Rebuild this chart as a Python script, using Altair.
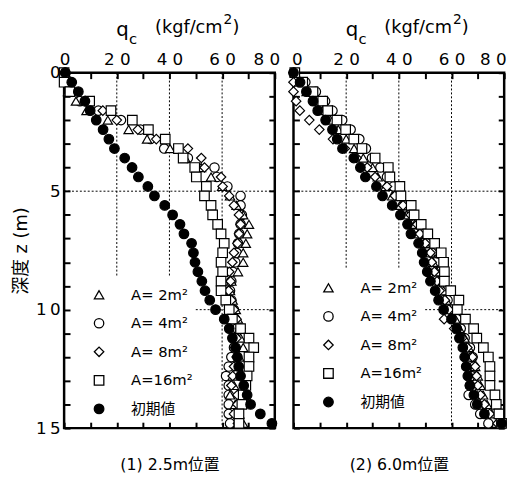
import altair as alt
import pandas as pd

FONT = "DejaVu Sans, Noto Sans CJK JP, sans-serif"

# depth (m)
Z = [0.0, 0.4, 0.8, 1.2, 1.6, 2.0, 2.4, 2.8, 3.2, 3.6, 4.0, 4.4, 4.8, 5.2, 5.6,
     6.0, 6.4, 6.8, 7.2, 7.6, 8.0, 8.4, 8.8, 9.2, 9.6, 10.0, 10.4, 10.8, 11.2,
     11.6, 12.0, 12.4, 12.8, 13.2, 13.6, 14.0, 14.4, 14.8]

SERIES = ["A= 2m²", "A= 4m²", "A= 8m²", "A=16m²", "初期値"]
SHAPES = ["triangle-up", "circle", "diamond", "square", "circle"]
FILLS = ["white", "white", "white", "white", "black"]
STROKES = ["black", "black", "black", "black", "black"]
SIZES = [90, 95, 150, 105, 160]
DRAW_ORDER = ["A= 4m²", "A= 2m²", "A= 8m²", "A=16m²", "初期値"]

# (1) 2.5m position, qc (kgf/cm2)
L_A2 = [0.5, 0.5, 1.5, 4.5, 8.5, 16.6, 24.5, 31.5, 40.2, 46.0, 52.0, 55.8, 60.0, 63.0, 65.5,
        68.0, 70.2, 69.5, 69.0, 68.0, 68.0, 66.0, 63.5, 63.0, 64.0, 65.2, 66.0, 66.5, 67.0,
        68.0, 66.5, 66.0, 64.0, 64.5, 63.0, 65.0, 66.5, 68.0]
L_A4 = [0.5, 1.0, 2.5, 6.0, 13.0, 21.6, 29.0, 32.8, 38.0, 47.0, 57.1, 58.0, 62.0, 67.0, 67.0,
        67.5, 67.0, 66.5, 66.0, 65.5, 65.0, 64.0, 63.5, 63.0, 63.5, 64.5, 65.0, 65.5, 65.0,
        64.5, 63.5, 62.5, 61.5, 62.5, 62.5, 62.5, 62.5, 63.0]
L_A8 = [0.3, 1.0, 3.0, 8.0, 14.7, 20.0, 28.0, 35.0, 47.0, 52.1, 53.3, 59.6, 60.2, 62.7, 64.5,
        66.4, 67.0, 66.4, 65.8, 64.5, 63.9, 62.7, 63.2, 62.5, 63.5, 64.5, 65.5, 67.0, 65.5,
        65.0, 65.5, 64.5, 64.0, 63.5, 65.8, 65.8, 64.5, 66.0]
L_A16 = [0.0, 0.0, 2.2, 9.7, 17.8, 25.9, 32.0, 38.4, 43.4, 45.2, 49.6, 50.2, 54.0, 53.3, 55.8,
         56.4, 58.3, 59.6, 60.8, 60.2, 59.6, 60.2, 59.6, 59.6, 61.4, 62.7, 63.9, 67.0, 70.2,
         72.0, 70.2, 70.2, 69.5, 69.0, 68.0, 67.5, 66.4, 66.4]
L_INIT = [0.4, 2.9, 5.4, 7.9, 9.9, 12.2, 14.8, 17.0, 19.1, 23.0, 25.8, 28.2, 31.8, 34.3, 38.2,
          41.2, 44.0, 45.5, 48.4, 49.1, 49.7, 50.8, 52.3, 53.5, 55.3, 57.5, 60.8, 62.7, 63.9,
          65.1, 65.8, 66.3, 67.0, 68.2, 69.5, 70.8, 74.5, 78.9]

# (2) 6.0m position
R_A2 = [0.5, 2.0, 5.0, 8.5, 11.0, 14.0, 17.0, 20.0, 23.0, 26.5, 30.0, 32.0, 35.0, 37.5, 40.5,
        43.0, 46.0, 47.5, 50.0, 52.0, 53.0, 54.5, 55.5, 57.0, 58.0, 59.5, 61.5, 63.0, 65.0,
        66.5, 67.5, 69.0, 70.0, 71.0, 72.0, 73.5, 75.3, 77.0]
R_A4 = [0.5, 4.5, 8.5, 12.0, 14.8, 18.5, 21.7, 25.0, 27.5, 29.8, 33.0, 35.5, 38.0, 39.5, 42.0,
        44.0, 46.0, 48.5, 50.5, 52.5, 54.0, 55.0, 56.0, 57.0, 58.5, 60.0, 62.0, 63.5, 65.0,
        67.0, 68.0, 68.5, 67.5, 67.0, 66.5, 69.0, 70.9, 74.0]
R_A8 = [0.0, 0.0, 0.0, 1.0, 2.4, 6.0, 9.8, 15.0, 19.5, 24.0, 28.0, 31.0, 35.5, 38.5, 41.6,
        44.5, 47.0, 48.0, 50.0, 52.0, 52.5, 53.5, 54.5, 55.5, 57.5, 59.0, 57.2, 61.0, 64.0,
        66.0, 68.0, 69.0, 69.5, 70.0, 71.0, 72.5, 74.5, 77.5]
R_A16 = [0.5, 3.5, 7.4, 11.1, 13.0, 16.5, 19.8, 22.9, 26.0, 31.0, 36.0, 36.6, 40.4, 40.8, 44.7,
         45.8, 48.5, 51.0, 53.6, 56.1, 57.0, 57.3, 57.3, 59.7, 62.8, 62.2, 65.3, 68.4, 69.6,
         72.1, 74.0, 74.6, 74.6, 74.6, 76.5, 77.0, 78.0, 79.0]
R_INIT = [0.0, 2.5, 4.9, 7.4, 9.2, 12.2, 14.8, 16.6, 18.6, 22.9, 25.4, 27.3, 31.5, 33.8, 37.5,
          40.6, 43.3, 44.6, 47.5, 48.9, 49.6, 50.8, 52.0, 53.8, 55.1, 57.0, 60.0, 62.0, 63.0,
          64.3, 65.0, 65.6, 66.2, 67.0, 68.5, 69.8, 72.5, 79.0]

X_TICKS = [0, 10, 20, 30, 40, 50, 60, 70, 80]
Y_TICKS = list(range(0, 16))

# dotted reference lines
VGRID_X = [20, 40, 60]
L_VGRID_END = [8.6, 8.6, 15]
R_VGRID_END = [8.3, 8.3, 15]
HGRID_Y = [5, 10]
HGRID_START = [0, 50]


def build_points(series_values):
    rows = []
    for name in DRAW_ORDER:
        vals = series_values[name]
        for z, q in zip(Z, vals):
            rows.append({"series": name, "z": z, "q": q})
    return pd.DataFrame(rows)


left_df = build_points({"A= 2m²": L_A2, "A= 4m²": L_A4, "A= 8m²": L_A8,
                        "A=16m²": L_A16, "初期値": L_INIT})
right_df = build_points({"A= 2m²": R_A2, "A= 4m²": R_A4, "A= 8m²": R_A8,
                         "A=16m²": R_A16, "初期値": R_INIT})

XS = alt.Scale(domain=[0, 80], nice=False, zero=False)
YS = alt.Scale(domain=[0, 15], reverse=True, nice=False, zero=False)


def text_layer(txt, x, y, size, align="left"):
    return alt.Chart(pd.DataFrame({"t": [txt]})).mark_text(
        font=FONT, fontSize=size, align=align, baseline="alphabetic", color="black"
    ).encode(x=alt.value(x), y=alt.value(y), text="t:N")


def make_panel(df, vgrid_end, caption, show_ylabels, legend_y, flush_offset):
    legend = alt.Legend(orient="none", legendX=28, legendY=legend_y, title=None,
                        labelFontSize=15, labelFont=FONT, labelColor="black",
                        symbolStrokeWidth=1.3,
                        rowPadding=13, labelOffset=25, padding=0)
    top_axis = alt.Axis(
        orient="top", values=X_TICKS,
        labelExpr="datum.value % 20 == 0 ? join(split(datum.label, ''), ' ') : ''",
        offset=-6, tickSize=6, tickWidth=2, tickColor="black", domain=False,
        grid=False, labelFontSize=17, labelFont=FONT, labelColor="black",
        labelPadding=4, title=None, labelOverlap=False, labelBound=False,
        labelFlush=True, labelFlushOffset=flush_offset)
    if show_ylabels:
        left_axis = alt.Axis(
            orient="left", values=Y_TICKS,
            labelExpr="datum.value % 5 == 0 ? join(split(datum.label, ''), '\u2009') : ''",
            offset=-6, tickSize=6, tickWidth=2, tickColor="black", domain=False,
            grid=False, labelFontSize=17, labelFont=FONT, labelColor="black",
            labelPadding=4, labelOverlap=False, labelBound=False, labelFlush=False,
            title="深度 z (m)", titleFont=FONT, titleFontSize=18,
            titleFontWeight="normal", titleColor="black", titlePadding=5)
    else:
        left_axis = alt.Axis(
            orient="left", values=Y_TICKS, labels=False, offset=-6, tickSize=6,
            tickWidth=2, tickColor="black", domain=False, grid=False, title=None)

    points = alt.Chart(df).mark_point(
        filled=True, strokeWidth=1.2, opacity=1
    ).encode(
        x=alt.X("q:Q", scale=XS, axis=top_axis),
        y=alt.Y("z:Q", scale=YS, axis=left_axis),
        shape=alt.Shape("series:N", scale=alt.Scale(domain=SERIES, range=SHAPES), legend=legend),
        fill=alt.Fill("series:N", scale=alt.Scale(domain=SERIES, range=FILLS), legend=legend),
        stroke=alt.Stroke("series:N", scale=alt.Scale(domain=SERIES, range=STROKES), legend=legend),
        size=alt.Size("series:N", scale=alt.Scale(domain=SERIES, range=SIZES), legend=legend),
    )

    vdf = pd.DataFrame({"gx": VGRID_X, "gy0": [0, 0, 0], "gy1": vgrid_end})
    vrules = alt.Chart(vdf).mark_rule(
        color="black", strokeWidth=1, strokeDash=[2, 2]
    ).encode(
        x=alt.X("gx:Q", scale=XS, axis=alt.Axis(
            orient="bottom", values=X_TICKS, labels=False, offset=-6, tickSize=6,
            tickWidth=2, tickColor="black", domain=False, grid=False,
            title=caption, titleFont=FONT, titleFontSize=16,
            titleFontWeight="normal", titleColor="black", titlePadding=28)),
        y=alt.Y("gy0:Q", scale=YS, axis=None),
        y2="gy1:Q",
    )

    hdf = pd.DataFrame({"hy": HGRID_Y, "hx0": HGRID_START, "hx1": [80, 80]})
    hrules = alt.Chart(hdf).mark_rule(
        color="black", strokeWidth=1, strokeDash=[2, 2]
    ).encode(
        y=alt.Y("hy:Q", scale=YS, axis=alt.Axis(
            orient="right", values=Y_TICKS, labels=False, offset=-6, tickSize=6,
            tickWidth=2, tickColor="black", domain=False, grid=False, title=None)),
        x=alt.X("hx0:Q", scale=XS, axis=None),
        x2="hx1:Q",
    )

    titles = (text_layer("q", 53, -37, 20) + text_layer("c", 66, -29, 15)
              + text_layer("(kgf/cm", 161, -40, 18, "right")
              + text_layer("2", 162, -49, 14)
              + text_layer(")", 171, -40, 18))

    return alt.layer(vrules, hrules, points, titles).resolve_axis(
        x="independent", y="independent"
    ).properties(width=214, height=361)


left = make_panel(left_df, L_VGRID_END, "(1) 2.5m位置", True, 218, 5)
right = make_panel(right_df, R_VGRID_END, "(2) 6.0m位置", False, 211, 2)

chart = alt.hconcat(left, right, spacing=19, bounds="flush").resolve_scale(
    shape="independent", fill="independent", size="independent", stroke="independent"
).resolve_legend(
    shape="independent", fill="independent", size="independent", stroke="independent"
).configure_view(
    stroke="black", strokeWidth=2.5
).properties(
    padding={"left": 3, "top": 0, "right": 5, "bottom": 5},
    background="white"
)

chart.save("out.html", embed_options={"renderer": "svg", "actions": False})
